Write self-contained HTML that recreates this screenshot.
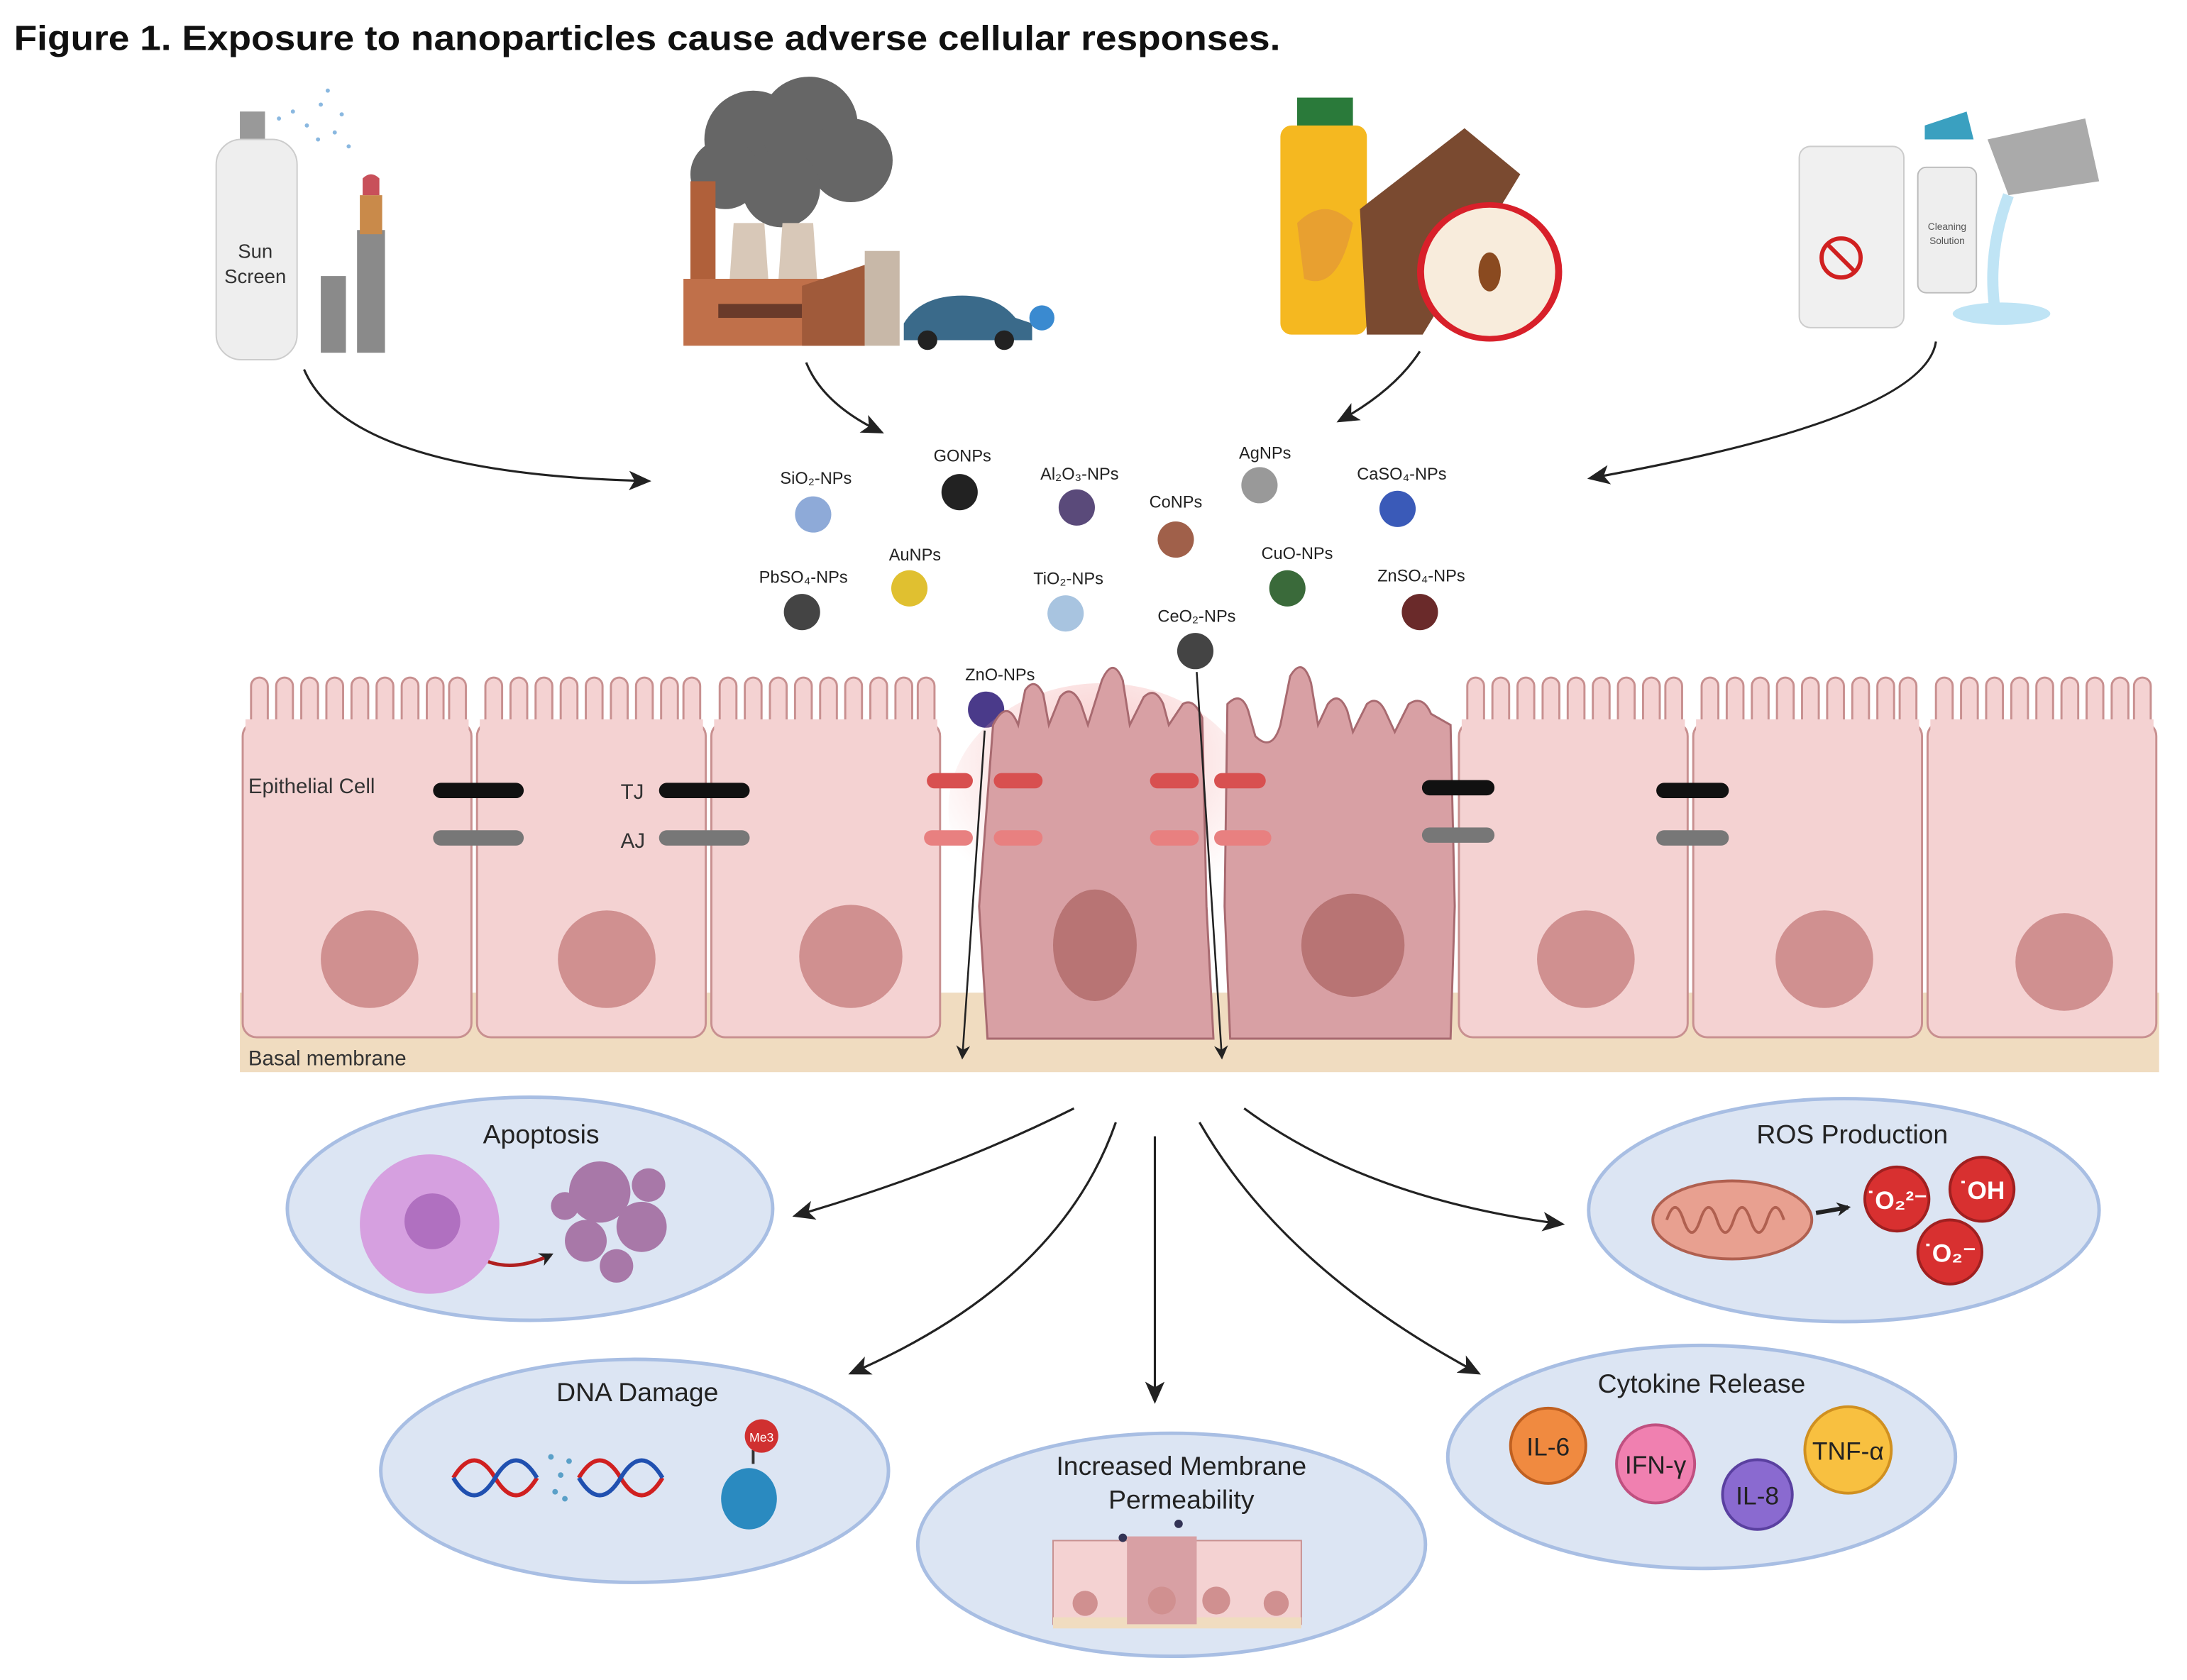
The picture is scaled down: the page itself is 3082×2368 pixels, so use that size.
<!DOCTYPE html>
<html><head><meta charset="utf-8"><style>
html,body{margin:0;padding:0;background:#fff}
svg{display:block}
text{font-family:"Liberation Sans",sans-serif}
</style></head><body>
<svg width="3082" height="2368" viewBox="0 0 1568 1205" preserveAspectRatio="none" xmlns="http://www.w3.org/2000/svg">
<defs>
<marker id="ah" markerWidth="10" markerHeight="10" refX="8" refY="5" orient="auto" markerUnits="userSpaceOnUse"><path d="M0,0 L10,5 L0,10 L3,5z" fill="#222"/></marker>
<marker id="ah2" markerWidth="16" markerHeight="14" refX="14" refY="7" orient="auto" markerUnits="userSpaceOnUse"><path d="M0,0 L16,7 L0,14 L4,7z" fill="#222"/></marker>
<radialGradient id="glow" cx="0.5" cy="0.3" r="0.6"><stop offset="0" stop-color="#f3a0a0" stop-opacity="0.6"/><stop offset="1" stop-color="#f3a0a0" stop-opacity="0"/></radialGradient>
</defs>
<text x="10" y="36" font-size="25" font-weight="bold" fill="#111" textLength="908" lengthAdjust="spacingAndGlyphs">Figure 1. Exposure to nanoparticles cause adverse cellular responses.</text>

<!-- sunscreen -->
<rect x="172" y="80" width="18" height="22" fill="#999"/>
<rect x="155" y="100" width="58" height="158" rx="18" fill="#eee" stroke="#ccc"/>
<text x="183" y="185" font-size="14" text-anchor="middle" fill="#333">Sun</text>
<text x="183" y="203" font-size="14" text-anchor="middle" fill="#333">Screen</text>
<g fill="#8ab8e0"><circle cx="200" cy="85" r="1.5"/><circle cx="210" cy="80" r="1.5"/><circle cx="220" cy="90" r="1.5"/><circle cx="230" cy="75" r="1.5"/><circle cx="240" cy="95" r="1.5"/><circle cx="228" cy="100" r="1.5"/><circle cx="245" cy="82" r="1.5"/><circle cx="235" cy="65" r="1.5"/><circle cx="250" cy="105" r="1.5"/></g>
<rect x="230" y="198" width="18" height="55" fill="#8a8a8a"/>
<rect x="256" y="165" width="20" height="88" fill="#8a8a8a"/>
<rect x="258" y="140" width="16" height="28" fill="#c98a4a"/>
<path d="M260,140 L260,128 Q266,122 272,128 L272,140z" fill="#c8505a"/>
<!-- factory -->
<g fill="#666"><circle cx="540" cy="100" r="35"/><circle cx="580" cy="90" r="35"/><circle cx="610" cy="115" r="30"/><circle cx="520" cy="125" r="25"/><circle cx="560" cy="135" r="28"/></g>
<rect x="495" y="130" width="18" height="115" fill="#b0603a"/>
<path d="M520,245 L526,160 L548,160 L554,245z" fill="#d8c8b8"/>
<path d="M555,245 L561,160 L583,160 L589,245z" fill="#d8c8b8"/>
<rect x="490" y="200" width="130" height="48" fill="#c0704a"/>
<rect x="515" y="218" width="60" height="10" fill="#6a3a2a"/>
<path d="M575,248 L575,205 L620,190 L620,248z" fill="#a05a3a"/>
<rect x="620" y="180" width="25" height="68" fill="#c8b8a8"/>
<path d="M648,232 Q660,212 690,212 Q715,212 728,228 L740,232 L740,244 L648,244z" fill="#3a6a8a"/>
<circle cx="665" cy="244" r="7" fill="#222"/><circle cx="720" cy="244" r="7" fill="#222"/>
<circle cx="747" cy="228" r="9" fill="#3a8ad0"/>
<!-- food -->
<rect x="930" y="70" width="40" height="22" fill="#2a7a3a"/>
<rect x="918" y="90" width="62" height="150" rx="8" fill="#f5b820"/>
<path d="M930,160 Q950,140 970,160 Q960,210 935,200z" fill="#e8a030"/>
<path d="M975,150 L1050,92 L1090,125 L1020,240 L980,240z" fill="#7a4a30"/>
<ellipse cx="1068" cy="195" rx="52" ry="50" fill="#d8202a"/>
<ellipse cx="1068" cy="195" rx="47" ry="46" fill="#f8ecdc"/>
<ellipse cx="1068" cy="195" rx="8" ry="14" fill="#8a4a20"/>
<!-- cleaning -->
<rect x="1290" y="105" width="75" height="130" rx="8" fill="#f0f0f0" stroke="#ccc"/>
<circle cx="1320" cy="185" r="14" fill="none" stroke="#d02020" stroke-width="3"/>
<line x1="1311" y1="176" x2="1329" y2="194" stroke="#d02020" stroke-width="3"/>
<rect x="1375" y="120" width="42" height="90" rx="6" fill="#eee" stroke="#bbb"/>
<path d="M1380,90 L1410,80 L1415,100 L1380,100z" fill="#3aa0c0"/>
<text x="1396" y="165" font-size="7" text-anchor="middle" fill="#555">Cleaning</text>
<text x="1396" y="175" font-size="7" text-anchor="middle" fill="#555">Solution</text>
<path d="M1425,100 L1495,85 L1505,130 L1440,140z" fill="#aaa"/>
<path d="M1440,140 Q1425,180 1430,220" stroke="#bfe4f5" stroke-width="8" fill="none"/>
<ellipse cx="1435" cy="225" rx="35" ry="8" fill="#bfe4f5"/>

<!-- arrows from sources -->
<g stroke="#222" stroke-width="1.6" fill="none" marker-end="url(#ah2)">
<path d="M218,265 Q250,340 465,345"/>
<path d="M578,260 Q590,290 632,310"/>
<path d="M1018,252 Q1000,280 960,302"/>
<path d="M1388,245 Q1380,300 1140,343"/>
</g>

<!-- nanoparticles -->
<g font-size="12" text-anchor="middle" fill="#222">
<text x="585" y="347">SiO₂-NPs</text><circle cx="583" cy="369" r="13" fill="#8eaad8"/>
<text x="690" y="331">GONPs</text><circle cx="688" cy="353" r="13" fill="#222"/>
<text x="774" y="344">Al₂O₃-NPs</text><circle cx="772" cy="364" r="13" fill="#5a4a7a"/>
<text x="907" y="329">AgNPs</text><circle cx="903" cy="348" r="13" fill="#999"/>
<text x="1005" y="344">CaSO₄-NPs</text><circle cx="1002" cy="365" r="13" fill="#3a5ab8"/>
<text x="843" y="364">CoNPs</text><circle cx="843" cy="387" r="13" fill="#a0604a"/>
<text x="576" y="418">PbSO₄-NPs</text><circle cx="575" cy="439" r="13" fill="#444"/>
<text x="656" y="402">AuNPs</text><circle cx="652" cy="422" r="13" fill="#e0c030"/>
<text x="766" y="419">TiO₂-NPs</text><circle cx="764" cy="440" r="13" fill="#a8c4e0"/>
<text x="930" y="401">CuO-NPs</text><circle cx="923" cy="422" r="13" fill="#3a6a3a"/>
<text x="1019" y="417">ZnSO₄-NPs</text><circle cx="1018" cy="439" r="13" fill="#6a2a2a"/>
<text x="858" y="446">CeO₂-NPs</text><circle cx="857" cy="467" r="13" fill="#444"/>
<text x="717" y="488">ZnO-NPs</text><circle cx="707" cy="509" r="13" fill="#4a3a8a"/>
</g>

<!-- basal membrane -->
<rect x="172" y="712" width="1376" height="57" fill="#f0dcc0"/>
<text x="178" y="764" font-size="15" fill="#333">Basal membrane</text>
<!-- normal cells -->
<g fill="#f4d2d2" stroke="#c89090" stroke-width="1.5">
<rect x="174" y="518" width="164" height="226" rx="10"/>
<rect x="342" y="518" width="164" height="226" rx="10"/>
<rect x="510" y="518" width="164" height="226" rx="10"/>
<rect x="1046" y="518" width="164" height="226" rx="10"/>
<rect x="1214" y="518" width="164" height="226" rx="10"/>
<rect x="1382" y="518" width="164" height="226" rx="10"/>
</g>
<!-- microvilli normal -->
<g fill="#f4d2d2" stroke="#c89090" stroke-width="1.5">
<path d="M180,520 V492 a6,6 0 0 1 12,0 V520 M198,520 V492 a6,6 0 0 1 12,0 V520 M216,520 V492 a6,6 0 0 1 12,0 V520 M234,520 V492 a6,6 0 0 1 12,0 V520 M252,520 V492 a6,6 0 0 1 12,0 V520 M270,520 V492 a6,6 0 0 1 12,0 V520 M288,520 V492 a6,6 0 0 1 12,0 V520 M306,520 V492 a6,6 0 0 1 12,0 V520 M322,520 V492 a6,6 0 0 1 12,0 V520"/>
<path transform="translate(168,0)" d="M180,520 V492 a6,6 0 0 1 12,0 V520 M198,520 V492 a6,6 0 0 1 12,0 V520 M216,520 V492 a6,6 0 0 1 12,0 V520 M234,520 V492 a6,6 0 0 1 12,0 V520 M252,520 V492 a6,6 0 0 1 12,0 V520 M270,520 V492 a6,6 0 0 1 12,0 V520 M288,520 V492 a6,6 0 0 1 12,0 V520 M306,520 V492 a6,6 0 0 1 12,0 V520 M322,520 V492 a6,6 0 0 1 12,0 V520"/>
<path transform="translate(336,0)" d="M180,520 V492 a6,6 0 0 1 12,0 V520 M198,520 V492 a6,6 0 0 1 12,0 V520 M216,520 V492 a6,6 0 0 1 12,0 V520 M234,520 V492 a6,6 0 0 1 12,0 V520 M252,520 V492 a6,6 0 0 1 12,0 V520 M270,520 V492 a6,6 0 0 1 12,0 V520 M288,520 V492 a6,6 0 0 1 12,0 V520 M306,520 V492 a6,6 0 0 1 12,0 V520 M322,520 V492 a6,6 0 0 1 12,0 V520"/>
<path transform="translate(872,0)" d="M180,520 V492 a6,6 0 0 1 12,0 V520 M198,520 V492 a6,6 0 0 1 12,0 V520 M216,520 V492 a6,6 0 0 1 12,0 V520 M234,520 V492 a6,6 0 0 1 12,0 V520 M252,520 V492 a6,6 0 0 1 12,0 V520 M270,520 V492 a6,6 0 0 1 12,0 V520 M288,520 V492 a6,6 0 0 1 12,0 V520 M306,520 V492 a6,6 0 0 1 12,0 V520 M322,520 V492 a6,6 0 0 1 12,0 V520"/>
<path transform="translate(1040,0)" d="M180,520 V492 a6,6 0 0 1 12,0 V520 M198,520 V492 a6,6 0 0 1 12,0 V520 M216,520 V492 a6,6 0 0 1 12,0 V520 M234,520 V492 a6,6 0 0 1 12,0 V520 M252,520 V492 a6,6 0 0 1 12,0 V520 M270,520 V492 a6,6 0 0 1 12,0 V520 M288,520 V492 a6,6 0 0 1 12,0 V520 M306,520 V492 a6,6 0 0 1 12,0 V520 M322,520 V492 a6,6 0 0 1 12,0 V520"/>
<path transform="translate(1208,0)" d="M180,520 V492 a6,6 0 0 1 12,0 V520 M198,520 V492 a6,6 0 0 1 12,0 V520 M216,520 V492 a6,6 0 0 1 12,0 V520 M234,520 V492 a6,6 0 0 1 12,0 V520 M252,520 V492 a6,6 0 0 1 12,0 V520 M270,520 V492 a6,6 0 0 1 12,0 V520 M288,520 V492 a6,6 0 0 1 12,0 V520 M306,520 V492 a6,6 0 0 1 12,0 V520 M322,520 V492 a6,6 0 0 1 12,0 V520"/>
</g>
<g fill="#f4d2d2"><rect x="176" y="516" width="160" height="8"/><rect x="344" y="516" width="160" height="8"/><rect x="512" y="516" width="160" height="8"/><rect x="1048" y="516" width="160" height="8"/><rect x="1216" y="516" width="160" height="8"/><rect x="1384" y="516" width="160" height="8"/></g>
<!-- damaged cells -->
<ellipse cx="790" cy="580" rx="110" ry="90" fill="url(#glow)"/>
<path d="M708,745 L702,650 L712,520 Q722,500 730,520 L735,495 Q742,485 748,498 L752,520 L760,500 Q768,490 775,505 L780,520 L790,488 Q798,470 805,488 L810,520 L820,500 Q828,492 834,505 L838,520 L848,505 Q856,500 862,515 L865,650 L870,745z" fill="#d8a0a4" stroke="#a86a70" stroke-width="1.5"/>
<path d="M882,745 L878,650 L880,505 Q890,495 895,510 L900,528 Q912,540 918,520 L925,485 Q934,470 940,490 L945,520 L952,505 Q960,495 966,510 L970,525 L980,505 Q988,498 994,512 L1000,525 L1010,505 Q1020,498 1026,512 L1040,520 L1043,650 L1040,745z" fill="#d8a0a4" stroke="#a86a70" stroke-width="1.5"/>
<!-- nuclei -->
<g fill="#d09090"><circle cx="265" cy="688" r="35"/><circle cx="435" cy="688" r="35"/><circle cx="610" cy="686" r="37"/><circle cx="1137" cy="688" r="35"/><circle cx="1308" cy="688" r="35"/><circle cx="1480" cy="690" r="35"/></g>
<ellipse cx="785" cy="678" rx="30" ry="40" fill="#b87474"/>
<ellipse cx="970" cy="678" rx="37" ry="37" fill="#b87474"/>
<!-- junctions -->
<g stroke-linecap="round" stroke-width="11">
<line x1="316" y1="567" x2="370" y2="567" stroke="#111"/><line x1="316" y1="601" x2="370" y2="601" stroke="#777"/>
<line x1="478" y1="567" x2="532" y2="567" stroke="#111"/><line x1="478" y1="601" x2="532" y2="601" stroke="#777"/>
<line x1="1025" y1="565" x2="1066" y2="565" stroke="#111"/><line x1="1025" y1="599" x2="1066" y2="599" stroke="#777"/>
<line x1="1193" y1="567" x2="1234" y2="567" stroke="#111"/><line x1="1193" y1="601" x2="1234" y2="601" stroke="#777"/>
<line x1="670" y1="560" x2="692" y2="560" stroke="#d85050"/><line x1="718" y1="560" x2="742" y2="560" stroke="#d85050"/>
<line x1="668" y1="601" x2="692" y2="601" stroke="#e88080"/><line x1="718" y1="601" x2="742" y2="601" stroke="#e88080"/>
<line x1="830" y1="560" x2="854" y2="560" stroke="#d85050"/><line x1="876" y1="560" x2="902" y2="560" stroke="#d85050"/>
<line x1="830" y1="601" x2="854" y2="601" stroke="#e88080"/><line x1="876" y1="601" x2="906" y2="601" stroke="#e88080"/>
</g>
<text x="178" y="569" font-size="15" fill="#333">Epithelial Cell</text>
<text x="445" y="573" font-size="15" fill="#333">TJ</text>
<text x="445" y="608" font-size="15" fill="#333">AJ</text>
<!-- penetration arrows -->
<g stroke="#222" stroke-width="1.3" fill="none" marker-end="url(#ah)">
<line x1="706" y1="524" x2="690" y2="758"/>
<line x1="858" y1="482" x2="876" y2="758"/>
</g>

<!-- response arrows -->
<g stroke="#222" stroke-width="1.6" fill="none" marker-end="url(#ah2)">
<path d="M770,795 Q680,840 570,872"/>
<path d="M800,805 Q760,920 610,985"/>
<path d="M828,815 L828,1005"/>
<path d="M860,805 Q920,910 1060,985"/>
<path d="M892,795 Q980,860 1120,878"/>
</g>

<!-- ellipses -->
<g fill="#dce5f3" stroke="#a8bee3" stroke-width="2.5">
<ellipse cx="380" cy="867" rx="174" ry="80"/>
<ellipse cx="1322" cy="868" rx="183" ry="80"/>
<ellipse cx="455" cy="1055" rx="182" ry="80"/>
<ellipse cx="840" cy="1108" rx="182" ry="80"/>
<ellipse cx="1220" cy="1045" rx="182" ry="80"/>
</g>
<g font-size="19" text-anchor="middle" fill="#222">
<text x="388" y="820">Apoptosis</text>
<text x="1328" y="820">ROS Production</text>
<text x="457" y="1005">DNA Damage</text>
<text x="847" y="1058">Increased Membrane</text>
<text x="847" y="1082">Permeability</text>
<text x="1220" y="999">Cytokine Release</text>
</g>
<!-- apoptosis -->
<circle cx="308" cy="878" r="50" fill="#d6a0e0"/><circle cx="310" cy="876" r="20" fill="#b070c0"/>
<path d="M350,905 Q370,912 395,900" stroke="#b02020" stroke-width="2.5" fill="none" marker-end="url(#ah)"/>
<g fill="#a878a8"><circle cx="430" cy="855" r="22"/><circle cx="460" cy="880" r="18"/><circle cx="420" cy="890" r="15"/><circle cx="465" cy="850" r="12"/><circle cx="442" cy="908" r="12"/><circle cx="405" cy="865" r="10"/></g>
<!-- ROS -->
<ellipse cx="1242" cy="875" rx="57" ry="28" fill="#e8a090" stroke="#b06050" stroke-width="2"/>
<path d="M1195,875 q6,-18 12,0 q6,18 12,0 q6,-18 12,0 q6,18 12,0 q6,-18 12,0 q6,18 12,0 q6,-18 12,0" stroke="#b06050" stroke-width="2" fill="none"/>
<line x1="1302" y1="870" x2="1325" y2="866" stroke="#222" stroke-width="3" marker-end="url(#ah)"/>
<g fill="#d83030" stroke="#a02020" stroke-width="2"><circle cx="1360" cy="860" r="23"/><circle cx="1421" cy="853" r="23"/><circle cx="1398" cy="898" r="23"/></g>
<g fill="#fff" font-size="18" font-weight="bold" text-anchor="middle"><text x="1360" y="867">˙O₂²⁻</text><text x="1421" y="860">˙OH</text><text x="1398" y="905">˙O₂⁻</text></g>
<!-- DNA -->
<g stroke-width="3" fill="none"><path d="M325,1060 q15,-25 30,0 q15,25 30,0" stroke="#d02020"/><path d="M325,1060 q15,25 30,0 q15,-25 30,0" stroke="#2050b0"/>
<path d="M415,1060 q15,-25 30,0 q15,25 30,0" stroke="#d02020"/><path d="M415,1060 q15,25 30,0 q15,-25 30,0" stroke="#2050b0"/></g>
<g fill="#5aa0c8"><circle cx="395" cy="1045" r="2"/><circle cx="402" cy="1058" r="2"/><circle cx="398" cy="1070" r="2"/><circle cx="408" cy="1048" r="2"/><circle cx="405" cy="1075" r="2"/></g>
<ellipse cx="537" cy="1075" rx="20" ry="22" fill="#2a8ac0"/>
<line x1="540" y1="1050" x2="540" y2="1040" stroke="#333" stroke-width="2"/>
<circle cx="546" cy="1030" r="12" fill="#d03030"/><text x="546" y="1034" font-size="9" fill="#fff" text-anchor="middle">Me3</text>
<!-- membrane mini -->
<rect x="755" y="1105" width="178" height="60" fill="#f4d2d2" stroke="#c89090"/>
<rect x="755" y="1160" width="178" height="8" fill="#f0dcc0"/>
<rect x="808" y="1102" width="50" height="63" fill="#d8a0a4"/>
<g fill="#d09090"><circle cx="778" cy="1150" r="9"/><circle cx="833" cy="1148" r="10"/><circle cx="872" cy="1148" r="10"/><circle cx="915" cy="1150" r="9"/></g>
<circle cx="805" cy="1103" r="3" fill="#335"/><circle cx="845" cy="1093" r="3" fill="#335"/>
<!-- cytokines -->
<g stroke-width="2"><circle cx="1110" cy="1037" r="27" fill="#f08a40" stroke="#c06020"/>
<circle cx="1187" cy="1050" r="28" fill="#f080b0" stroke="#c05080"/>
<circle cx="1260" cy="1072" r="25" fill="#8a6ad0" stroke="#5a40a0"/>
<circle cx="1325" cy="1040" r="31" fill="#f8c040" stroke="#d09020"/></g>
<g font-size="18" text-anchor="middle" fill="#222"><text x="1110" y="1044">IL-6</text><text x="1187" y="1057">IFN-γ</text><text x="1260" y="1079">IL-8</text><text x="1325" y="1047">TNF-α</text></g>
</svg>
</body></html>
